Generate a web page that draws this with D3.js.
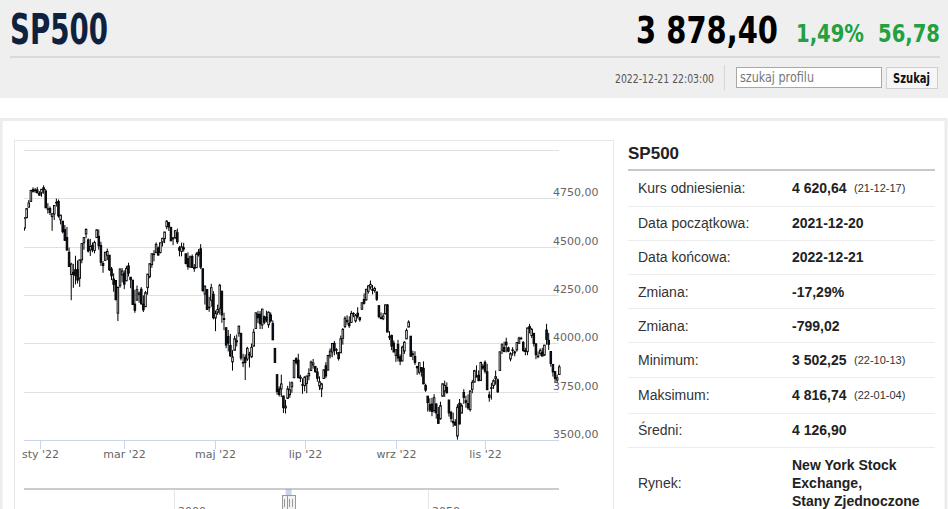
<!DOCTYPE html>
<html lang="pl">
<head>
<meta charset="UTF-8">
<title>SP500</title>
<script src="https://cdnjs.cloudflare.com/ajax/libs/d3/7.8.5/d3.min.js"></script>
<style>
  body { margin: 0; background: #fff; overflow: hidden; }
  .narrow { font-family: "Liberation Sans Narrow", "DejaVu Sans Condensed", "Arial Narrow", sans-serif; }
  .arial { font-family: "Liberation Sans", Arial, sans-serif; }
  .hc { font-family: "DejaVu Sans", "Lucida Grande", Verdana, sans-serif; font-size: 11px; fill: #666; }
</style>
</head>
<body>
<svg id="page" width="948" height="509"></svg>
<script>
// trading calendar
const firstDay = "2021-12-20", lastDay = "2022-12-21";
const holidays = ["2021-12-24", "2022-01-17", "2022-02-21", "2022-04-15", "2022-05-30",
  "2022-06-20", "2022-07-04", "2022-09-05", "2022-11-24"];

// daily [open, high, low, close], one array per month
const dec21 = [[4588,4588,4531,4568],[4595,4651,4583,4649],[4650,4698,4646,4697],[4704,4741,4704,4726],
  [4734,4791,4734,4791],[4795,4807,4780,4786],[4789,4804,4778,4793],[4794,4809,4775,4779],[4775,4787,4766,4766]];
const jan22 = [[4778,4797,4758,4797],[4805,4817,4774,4794],[4788,4798,4699,4701],[4693,4725,4671,4696],
  [4698,4708,4663,4677],[4655,4673,4582,4670],[4669,4714,4638,4713],[4729,4749,4707,4726],[4734,4744,4650,4659],
  [4638,4665,4615,4663],[4632,4632,4569,4577],[4588,4612,4530,4533],[4547,4602,4478,4483],[4471,4495,4395,4398],
  [4356,4417,4223,4410],[4367,4411,4287,4356],[4381,4453,4305,4350],[4381,4429,4310,4327],[4336,4433,4292,4432],
  [4432,4517,4414,4516]];
const feb22 = [[4520,4550,4484,4547],[4566,4595,4544,4589],[4535,4543,4470,4477],[4483,4540,4452,4501],
  [4506,4522,4471,4484],[4480,4531,4465,4522],[4547,4590,4547,4587],[4553,4589,4484,4504],[4506,4526,4401,4419],
  [4413,4426,4365,4402],[4429,4473,4429,4471],[4456,4490,4430,4475],[4456,4456,4374,4380],[4385,4395,4327,4349],
  [4333,4362,4267,4305],[4325,4327,4222,4226],[4156,4295,4115,4289],[4298,4385,4287,4385],[4354,4389,4315,4374]];
const mar22 = [[4363,4378,4280,4306],[4323,4401,4323,4387],[4401,4417,4346,4363],[4342,4342,4285,4329],
  [4327,4327,4200,4201],[4203,4277,4158,4171],[4223,4299,4223,4278],[4253,4268,4210,4260],[4280,4291,4200,4204],
  [4203,4248,4162,4173],[4189,4271,4188,4262],[4288,4359,4252,4358],[4345,4413,4336,4412],[4407,4465,4391,4463],
  [4462,4482,4424,4461],[4469,4522,4469,4512],[4493,4501,4456,4456],[4470,4521,4465,4520],[4523,4546,4501,4543],
  [4541,4576,4518,4576],[4603,4637,4590,4632],[4624,4628,4581,4602],[4599,4603,4530,4530]];
const apr22 = [[4540,4549,4508,4546],[4548,4584,4539,4583],[4572,4593,4514,4525],[4494,4504,4450,4481],
  [4475,4521,4450,4500],[4494,4520,4475,4488],[4463,4464,4408,4413],[4438,4471,4381,4397],[4394,4454,4393,4447],
  [4449,4460,4391,4393],[4386,4410,4370,4392],[4391,4471,4391,4462],[4472,4488,4449,4459],[4489,4513,4384,4394],
  [4386,4386,4268,4272],[4255,4299,4201,4296],[4278,4278,4175,4175],[4187,4241,4163,4184],[4223,4308,4189,4288],
  [4254,4270,4124,4132]];
const may22 = [[4131,4170,4063,4155],[4160,4200,4147,4175],[4181,4308,4149,4300],[4270,4270,4106,4147],
  [4128,4158,4068,4123],[4081,4081,3975,3991],[4035,4069,3958,4001],[3990,4049,3929,3935],[3904,3965,3859,3930],
  [3964,4039,3964,4024],[4013,4046,3984,4008],[4052,4091,4034,4089],[4052,4052,3912,3924],[3899,3946,3877,3901],
  [3928,3943,3810,3901],[3919,3982,3909,3974],[3943,3956,3875,3941],[3930,3999,3925,3979],[3985,4075,3985,4058],
  [4077,4158,4077,4158],[4151,4168,4105,4132]];
const jun22 = [[4150,4167,4074,4101],[4095,4178,4074,4177],[4138,4143,4099,4109],[4135,4169,4109,4121],
  [4096,4165,4080,4161],[4147,4160,4107,4116],[4102,4119,4017,4018],[3974,3974,3900,3901],[3838,3838,3734,3750],
  [3764,3778,3725,3735],[3764,3838,3722,3790],[3728,3728,3640,3667],[3666,3708,3637,3675],[3715,3780,3715,3765],
  [3734,3802,3718,3760],[3775,3803,3744,3796],[3822,3914,3822,3912],[3921,3928,3890,3900],[3913,3946,3820,3822],
  [3825,3837,3799,3819],[3786,3819,3739,3785]];
const jul22 = [[3781,3830,3752,3825],[3793,3832,3742,3831],[3832,3871,3809,3845],[3859,3911,3859,3903],
  [3888,3919,3869,3899],[3881,3881,3847,3854],[3852,3873,3802,3819],[3780,3829,3759,3802],[3764,3796,3722,3790],
  [3818,3864,3817,3863],[3884,3902,3819,3831],[3861,3940,3861,3937],[3935,3974,3922,3960],[3955,3999,3928,3999],
  [4000,4012,3938,3962],[3966,3975,3943,3967],[3953,3953,3911,3921],[3951,4040,3951,4024],[4026,4079,3993,4072],
  [4087,4140,4079,4130]];
const aug22 = [[4112,4145,4096,4119],[4104,4140,4080,4091],[4108,4168,4108,4155],[4155,4161,4135,4152],
  [4116,4152,4107,4145],[4156,4187,4129,4140],[4133,4137,4112,4122],[4176,4211,4176,4210],[4227,4258,4201,4207],
  [4225,4280,4220,4280],[4269,4302,4257,4297],[4290,4325,4278,4305],[4280,4302,4253,4274],[4273,4293,4262,4284],
  [4266,4266,4219,4228],[4195,4195,4130,4138],[4133,4160,4124,4129],[4127,4157,4120,4141],[4153,4201,4148,4199],
  [4199,4203,4058,4058],[4035,4063,4017,4031],[4041,4045,3965,3986],[4001,4015,3955,3955]];
const sep22 = [[3937,3970,3904,3967],[3995,4018,3906,3924],[3931,3943,3887,3908],[3909,3988,3906,3980],
  [3960,4011,3945,4006],[4023,4077,4023,4067],[4084,4119,4084,4110],[4037,4037,3932,3933],[3941,3962,3913,3946],
  [3932,3959,3888,3901],[3881,3881,3837,3873],[3850,3900,3839,3900],[3875,3876,3828,3856],[3871,3907,3789,3790],
  [3782,3791,3749,3758],[3727,3727,3647,3693],[3683,3716,3645,3655],[3686,3718,3623,3647],[3652,3737,3641,3719],
  [3687,3687,3610,3640],[3633,3671,3584,3586]];
const oct22 = [[3610,3698,3605,3678],[3726,3792,3726,3791],[3753,3807,3723,3783],[3772,3798,3739,3745],
  [3707,3707,3621,3640],[3643,3651,3592,3612],[3596,3641,3568,3589],[3591,3608,3574,3577],[3520,3685,3502,3670],
  [3690,3712,3580,3583],[3639,3690,3639,3678],[3746,3763,3687,3720],[3703,3729,3667,3695],[3689,3736,3656,3666],
  [3657,3758,3647,3753],[3762,3811,3742,3797],[3799,3863,3799,3859],[3826,3886,3824,3831],[3835,3860,3804,3807],
  [3808,3905,3808,3901],[3882,3894,3863,3872]];
const nov22 = [[3902,3912,3844,3856],[3853,3894,3760,3760],[3733,3751,3698,3720],[3767,3796,3709,3771],
  [3781,3814,3765,3807],[3817,3859,3786,3828],[3811,3818,3744,3749],[3860,3958,3860,3956],[3964,4001,3945,3993],
  [3978,4009,3956,3957],[4006,4029,3953,3992],[3977,3983,3954,3959],[3919,3954,3907,3947],[3966,3980,3936,3965],
  [3956,3962,3933,3950],[3966,4006,3957,4004],[4000,4034,3999,4027],[4023,4034,4021,4026],[4005,4012,3956,3964],
  [3964,3977,3938,3958],[3957,4080,3939,4080]];
const dec22 = [[4087,4101,4051,4077],[4040,4080,4027,4072],[4052,4052,3984,3999],[3997,4002,3918,3941],
  [3933,3958,3923,3934],[3948,3974,3936,3964],[3954,3977,3933,3934],[3939,3991,3935,3991],[4069,4101,3993,4020],
  [4016,4054,3966,3995],[3958,3958,3879,3896],[3891,3891,3828,3852],[3854,3855,3800,3818],[3810,3838,3796,3822],
  [3839,3889,3839,3878]];

// axes
const yTicks = [3500, 3750, 4000, 4250, 4500, 4750, 5000];
const xTickDates = ["2022-01-01", "2022-03-01", "2022-05-01", "2022-07-01", "2022-09-01", "2022-11-01"];
const xTickLabels = ["sty '22", "mar '22", "maj '22", "lip '22", "wrz '22", "lis '22"];
const navTicks = [2000, 2050];

// header + side table
const title = "SP500";
const lastPrice = "3 878,40", changePct = "1,49%", changeAbs = "56,78";
const timestamp = "2022-12-21 22:03:00";
const tableLabels = ["Kurs odniesienia:", "Data początkowa:", "Data końcowa:", "Zmiana:", "Zmiana:",
  "Minimum:", "Maksimum:", "Średni:", "Rynek:"];
const tableValues = ["4 620,64", "2021-12-20", "2022-12-21", "-17,29%", "-799,02",
  "3 502,25", "4 816,74", "4 126,90", "New York Stock|Exchange,|Stany Zjednoczone"];
const tableNotes = ["(21-12-17)", "", "", "", "", "(22-10-13)", "(22-01-04)", "", ""];

const parse = d3.utcParse("%Y-%m-%d"), fmtDay = d3.utcFormat("%Y-%m-%d");
const days = d3.utcDay.range(parse(firstDay), d3.utcDay.offset(parse(lastDay), 1))
  .filter(d => d.getUTCDay() % 6 !== 0 && !holidays.includes(fmtDay(d)));
const ohlc = [].concat(dec21, jan22, feb22, mar22, apr22, may22, jun22, jul22, aug22, sep22, oct22, nov22, dec22);
const data = ohlc.map((r, i) => ({date: days[i], o: r[0], h: r[1], l: r[2], c: r[3]}));

const svg = d3.select("#page");

// narrow header text, squeezed to the width the site's condensed face takes
function narrowText(px, py, size, weight, fill, txt, width, anchor) {
  return svg.append("text").attr("class", "narrow").attr("x", px).attr("y", py)
    .attr("font-size", size).attr("font-weight", weight).attr("fill", fill)
    .attr("text-anchor", anchor || "start")
    .attr("textLength", width).attr("lengthAdjust", "spacingAndGlyphs").text(txt);
}

// ---------- header ----------
svg.append("rect").attr("width", 948).attr("height", 98).attr("fill", "#efefef");
narrowText(10, 44, 42, "bold", "#0e2240", title, 98);
narrowText(636, 43, 38, "bold", "#000", lastPrice, 142);
narrowText(796, 42, 25, "bold", "#23a040", changePct, 68);
narrowText(878, 42, 25, "bold", "#23a040", changeAbs, 62);
svg.append("line").attr("x1", 10).attr("x2", 940).attr("y1", 57).attr("y2", 57)
  .attr("stroke", "#dadada").attr("stroke-width", 2);
narrowText(615, 83, 12, "normal", "#555", timestamp, 99);
svg.append("line").attr("x1", 724.5).attr("x2", 724.5).attr("y1", 65).attr("y2", 90).attr("stroke", "#d6d6d6");
svg.append("rect").attr("x", 736.5).attr("y", 67.5).attr("width", 145).attr("height", 20)
  .attr("fill", "#fff").attr("stroke", "#a8a8a8");
narrowText(740, 82, 14, "normal", "#777", "szukaj profilu", 74);
svg.append("rect").attr("x", 886.5).attr("y", 67.5).attr("width", 51).attr("height", 21)
  .attr("fill", "#f6f6f6").attr("stroke", "#cfcfcf");
narrowText(893, 83, 14, "bold", "#111", "Szukaj", 37);

// ---------- content panel ----------
svg.append("rect").attr("x", 1).attr("y", 119.5).attr("width", 945).attr("height", 420)
  .attr("fill", "#fff").attr("stroke", "#ececec").attr("stroke-width", 3);
svg.append("rect").attr("x", 14.5).attr("y", 140.5).attr("width", 599).attr("height", 420)
  .attr("fill", "#fff").attr("stroke", "#e8e8e8");

// ---------- chart ----------
const plot = {left: 24, right: 559, top: 150, bottom: 440};
const x = d3.scaleLinear().domain([0, data.length - 1]).range([22.4, 559.3]);
const y = d3.scaleLinear().domain([3500, 5000]).range([plot.bottom, plot.top]);
const fmtPl = d3.formatLocale({decimal: ",", thousands: "", grouping: [3], currency: ["", ""]}).format(".2f");

// ordinal position of a calendar date (interpolated between trading days)
function datePos(d) {
  const i = d3.bisector(e => e.date).left(data, d);
  if (i <= 0) return 0;
  if (i >= data.length) return data.length - 1;
  const a = data[i - 1].date, b = data[i].date;
  return i - 1 + (d - a) / (b - a);
}

const grid = svg.append("g");
grid.selectAll("line").data(yTicks.filter(v => v > 3500)).join("line")
  .attr("x1", plot.left).attr("x2", plot.right)
  .attr("y1", d => Math.round(y(d)) + 0.5).attr("y2", d => Math.round(y(d)) + 0.5)
  .attr("stroke", "#e0e0e0");
svg.append("g").selectAll("text").data(yTicks.filter(v => v < 5000)).join("text")
  .attr("class", "hc").attr("x", 553).attr("y", d => y(d) - 2).text(d => fmtPl(d));

svg.append("line").attr("x1", plot.left).attr("x2", plot.right)
  .attr("y1", plot.bottom + 0.5).attr("y2", plot.bottom + 0.5).attr("stroke", "#ccd6eb");
const xt = svg.append("g").selectAll("g").data(xTickDates).join("g")
  .attr("transform", d => `translate(${Math.round(x(datePos(parse(d)))) + 0.5},0)`);
xt.append("line").attr("y1", plot.bottom).attr("y2", plot.bottom + 9).attr("stroke", "#ccd6eb");
xt.append("text").attr("class", "hc").attr("y", 458).attr("text-anchor", "middle")
  .text((d, i) => xTickLabels[i]);

svg.append("clipPath").attr("id", "plotclip").append("rect")
  .attr("x", plot.left).attr("y", plot.top - 10).attr("width", plot.right - plot.left + 2)
  .attr("height", plot.bottom - plot.top + 10);
const candles = svg.append("g").attr("clip-path", "url(#plotclip)")
  .selectAll("g").data(data).join("g")
  .attr("transform", (d, i) => `translate(${x(i)},0)`);
candles.append("line").attr("y1", d => y(d.h)).attr("y2", d => y(d.l))
  .attr("stroke", "#000").attr("stroke-width", 1);
candles.append("rect").attr("x", -0.8).attr("width", 1.6)
  .attr("y", d => y(Math.max(d.o, d.c)))
  .attr("height", d => Math.max(0.6, Math.abs(y(d.o) - y(d.c))))
  .attr("fill", d => d.c >= d.o ? "#fff" : "#0c1a2e")
  .attr("stroke", "#000").attr("stroke-width", 0.9);

// ---------- navigator ----------
const nav = d3.scaleTime().domain([new Date(Date.UTC(1970, 5, 20)), new Date(Date.UTC(2075, 9, 15))])
  .range([plot.left, plot.right]);
const navG = svg.append("g");
navG.selectAll("line.nt").data(navTicks).join("line").attr("class", "nt")
  .attr("x1", d => Math.round(nav(new Date(Date.UTC(d, 0, 1)))) + 0.5)
  .attr("x2", d => Math.round(nav(new Date(Date.UTC(d, 0, 1)))) + 0.5)
  .attr("y1", 489).attr("y2", 509).attr("stroke", "#e6e6e6");
navG.selectAll("text").data(navTicks).join("text").attr("class", "hc")
  .attr("x", d => nav(new Date(Date.UTC(d, 0, 1))) + 4).attr("y", 515).attr("fill", "#666").text(d => d);
navG.append("line").attr("x1", plot.left).attr("x2", plot.right).attr("y1", 489).attr("y2", 489)
  .attr("stroke", "#cccccc").attr("stroke-width", 2);
const selA = nav(data[0].date), selB = nav(data[data.length - 1].date);
navG.append("rect").attr("x", selA).attr("y", 489).attr("width", Math.max(6, selB - selA)).attr("height", 7)
  .attr("fill", "rgba(102,133,194,0.35)");
[selA, selB].forEach(hx => {
  const h = navG.append("g").attr("transform", `translate(${Math.round(hx)},0)`);
  h.append("rect").attr("x", -3.5).attr("y", 495.5).attr("width", 8).attr("height", 15)
    .attr("fill", "#f2f2f2").attr("stroke", "#999");
  h.append("line").attr("x1", -1.5).attr("x2", -1.5).attr("y1", 499).attr("y2", 507).attr("stroke", "#999");
  h.append("line").attr("x1", 1.5).attr("x2", 1.5).attr("y1", 499).attr("y2", 507).attr("stroke", "#999");
});

// ---------- side table ----------
const tbl = svg.append("g").attr("class", "arial");
tbl.append("text").attr("x", 628).attr("y", 159).attr("font-size", 17).attr("font-weight", "bold")
  .attr("fill", "#222").text(title);
tbl.append("line").attr("x1", 628).attr("x2", 935).attr("y1", 170).attr("y2", 170)
  .attr("stroke", "#c8c8c8").attr("stroke-width", 2);
const rowMid = [188, 223, 257, 292, 326, 360, 395, 430, 483];
const rowSep = [206.5, 240.5, 274.5, 308.5, 342.5, 377.5, 413.5, 447.5];
tbl.selectAll("line.sep").data(rowSep).join("line").attr("class", "sep")
  .attr("x1", 628).attr("x2", 935).attr("y1", d => d).attr("y2", d => d).attr("stroke", "#ececec");
tableLabels.forEach((lab, i) => {
  tbl.append("text").attr("x", 638).attr("y", rowMid[i] + 5).attr("font-size", 14)
    .attr("fill", "#333").text(lab);
  const parts = tableValues[i].split("|");
  const v = tbl.append("text").attr("x", 792).attr("font-size", 14).attr("font-weight", "bold")
    .attr("fill", "#222");
  parts.forEach((p, k) => v.append("tspan").attr("x", 792)
    .attr("y", rowMid[i] + 5 + (k - (parts.length - 1) / 2) * 18).text(p));
  if (tableNotes[i]) {
    tbl.append("text").attr("x", 854).attr("y", rowMid[i] + 4).attr("font-size", 11)
      .attr("fill", "#333").text(tableNotes[i]);
  }
});
</script>
</body>
</html>
